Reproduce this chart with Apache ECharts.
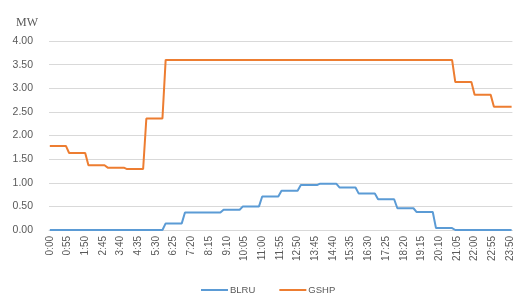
<!DOCTYPE html>
<html>
<head>
<meta charset="utf-8">
<script src="https://cdn.jsdelivr.net/npm/echarts@6/dist/echarts.min.js"></script>
<style>
  html, body { margin: 0; padding: 0; background: #fff; }
  #main { width: 515px; height: 298px; }
</style>
</head>
<body>
<div id="main"></div>
<script>
// hourly values (MW), each hour shown as 12 five-minute points
const blruHourly = [0, 0, 0, 0, 0, 0, 0.14, 0.37, 0.37, 0.43, 0.50, 0.71,
  0.83, 0.95, 0.98, 0.90, 0.77, 0.65, 0.46, 0.38, 0.04, 0, 0, 0]
const gshpHourly = [1.78, 1.63, 1.37, 1.32, 1.29, 2.36, 3.60, 3.60, 3.60, 3.60, 3.60, 3.60,
  3.60, 3.60, 3.60, 3.60, 3.60, 3.60, 3.60, 3.60, 3.60, 3.13, 2.86, 2.61]
const yTicks = [0, 0.5, 1, 1.5, 2, 2.5, 3, 3.5, 4]

// 5 minute time labels 0:00 .. 23:55
const times = []
for (let h = 0; h < 24; h++) {
  for (let m = 0; m < 60; m += 5) {
    times.push(h + ':' + (m < 10 ? '0' + m : m))
  }
}
const expand = arr => arr.flatMap(v => Array(12).fill(v))
const blru = expand(blruHourly)
const gshp = expand(gshpHourly)

const txt = '#595959'
const myChart = echarts.init(document.getElementById('main'))
myChart.setOption({
  animation: false,
  title: {
    text: 'MW',
    left: 11,
    top: 12,
    textStyle: { fontFamily: 'Liberation Serif', fontSize: 12, fontWeight: 'normal', color: txt }
  },
  legend: {
    top: 285,
    left: 201,
    padding: 0,
    icon: 'rect',
    itemWidth: 27,
    itemHeight: 2,
    itemGap: 24,
    textStyle: { fontFamily: 'Liberation Sans', fontSize: 9.5, color: txt, padding: [0, 0, 0, -3] },
    data: ['BLRU', 'GSHP']
  },
  grid: { left: 49, right: 2, top: 41, bottom: 68 },
  xAxis: {
    type: 'category',
    data: times,
    boundaryGap: true,
    axisTick: { show: false },
    axisLine: { lineStyle: { color: '#D9D9D9' } },
    axisLabel: {
      interval: 10,
      rotate: 90,
      margin: 6,
      fontFamily: 'Liberation Sans',
      fontSize: 10,
      color: txt
    }
  },
  yAxis: {
    type: 'value',
    min: yTicks[0],
    max: yTicks[yTicks.length - 1],
    interval: 0.5,
    axisLine: { show: false },
    axisTick: { show: false },
    splitLine: { lineStyle: { color: '#D9D9D9' } },
    axisLabel: {
      margin: 16,
      fontFamily: 'Liberation Sans',
      fontSize: 10.5,
      color: txt,
      formatter: v => v.toFixed(2)
    }
  },
  series: [
    {
      name: 'BLRU',
      type: 'line',
      data: blru,
      symbol: 'none',
      lineStyle: { width: 2, color: '#5B9BD5' },
      itemStyle: { color: '#5B9BD5' }
    },
    {
      name: 'GSHP',
      type: 'line',
      data: gshp,
      symbol: 'none',
      lineStyle: { width: 2, color: '#ED7D31' },
      itemStyle: { color: '#ED7D31' }
    }
  ]
})
</script>
</body>
</html>
